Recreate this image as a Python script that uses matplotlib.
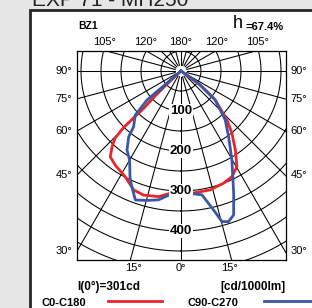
import numpy as np
import matplotlib
matplotlib.use('Agg')
import matplotlib.pyplot as plt
from matplotlib.patches import Rectangle

# photometric curves [cd/1000lm], gamma angle in degrees (negative = left half)
ang_c0 = [-50, -47.5, -45, -45.5, -44.5, -42.3, -39.5, -35, -27.8, -21.7, -16.8,
          -10.1, -5, 0, 5, 13.8, 20.8, 25.8, 30.3, 34.5, 39.3, 43.2, 49.8, 54, 60]
int_c0 = [0, 70, 132, 200, 235, 256, 278, 287, 299, 320, 324,
          319, 307, 303, 307, 306, 300, 293, 277, 240, 201, 168, 112, 60, 0]

ang_c90 = [-55, -49.5, -46, -40.4, -38.5, -34.4, -30, -25.6, -23.6, -19.5, -15,
           -9.9, -5.7, 0, 4.4, 9.6, 13.2, 15.2, 17.5, 20.1, 23.3, 29.8, 35.9,
           42.1, 49.8, 55, 60]
int_c90 = [0, 112, 159, 183, 210, 239, 257, 295, 310, 342, 335,
           327, 312, 305, 307, 314, 357, 390, 395, 383, 333, 256, 203,
           165, 112, 50, 0]

ring_labels = [100, 200, 300, 400]
side_labels = ['90°', '75°', '60°', '45°', '30°']
side_angles = [90, 75, 60, 45, 30]
top_labels = ['105°', '120°', '180°', '120°', '105°']
top_angles = [-105, -120, 180, 120, 105]
bot_labels = ['15°', '0°', '15°']
bot_angles = [-15, 0, 15]

title = 'EXP 71 - MH250'
zone = 'BZ1'
eff = '=67.4%'
i0 = 'I(0°)=301cd'
unit = '[cd/1000lm]'
series = ['C0-C180', 'C90-C270']
colors = ['#e8252b', '#3a56a6']

FN = ['Liberation Sans', 'DejaVu Sans']
W, H = 312, 308

fig = plt.figure(figsize=(W / 100, H / 100), dpi=100)
fig.patch.set_facecolor('#e6e6e6')

# background / frame in pixel units
bg = fig.add_axes([0, 0, 1, 1])
bg.set_xlim(0, W)
bg.set_ylim(H, 0)
bg.axis('off')
bg.add_patch(Rectangle((30, 10), 400, 400, fc='white', ec='#262626', lw=2))
bg.text(32, 6, title, fontsize=15, family=FN, va='baseline', ha='left', color='#222')
bg.text(78, 26, zone, fontsize=7.5, weight='bold', family=FN, va='center')
bg.text(238, 23, 'h', fontsize=13, family=FN, va='center', ha='center')
bg.text(245, 27, eff, fontsize=8, weight='bold', family=FN, va='center')
bg.text(77, 287, i0, fontsize=8.5, weight='bold', family=FN, va='center')
bg.text(220, 287, unit, fontsize=8.5, weight='bold', family=FN, va='center')
bg.text(42, 303, series[0], fontsize=8, weight='bold', family=FN, va='center')
bg.text(188, 303, series[1], fontsize=8, weight='bold', family=FN, va='center')
bg.plot([108, 162], [301, 301], color=colors[0], lw=2)
bg.plot([264, 312], [301, 301], color=colors[1], lw=2)

# polar diagram drawn in cd units, 0.4 px per cd, centre at (181, 71)
sc = 0.4
cx, cy = 181, 71
x0, x1, y0, y1 = 77, 285.5, 50.5, 259.5
ax = fig.add_axes([x0 / W, 1 - y1 / H, (x1 - x0) / W, (y1 - y0) / H])
ax.set_xlim((x0 - cx) / sc, (x1 - cx) / sc)
ax.set_ylim((y1 - cy) / sc, (y0 - cy) / sc)
ax.set_xticks([])
ax.set_yticks([])
for s in ax.spines.values():
    s.set_linewidth(0.9)
ax.patch.set_alpha(0)

t = np.linspace(0, 2 * np.pi, 400)
for r in range(50, 750, 50):
    ax.plot(r * np.sin(t), r * np.cos(t), color='k', lw=0.75, zorder=1)
for a in range(0, 360, 15):
    rad = np.radians(a)
    ax.plot([15 * np.sin(rad), 800 * np.sin(rad)], [15 * np.cos(rad), 800 * np.cos(rad)],
            color='k', lw=0.75, zorder=1)

for ang, val, c in [(ang_c0, int_c0, colors[0]), (ang_c90, int_c90, colors[1])]:
    a = np.radians(ang)
    v = np.array(val)
    ax.plot(v * np.sin(a), v * np.cos(a), color=c, lw=2, zorder=3,
            solid_joinstyle='round')

for v in ring_labels:
    ax.text(0, v, str(v), fontsize=9.5, weight='bold', family=FN, ha='center', va='center',
            zorder=4, bbox=dict(fc='white', ec='none', pad=0.4))

# angle labels round the box
for lab, a in zip(side_labels, side_angles):
    y = cy + (cx - x0) / np.tan(np.radians(a)) if a != 90 else cy
    y = min(y, 255)
    bg.text(x0 - 5, y, lab, fontsize=8, family=FN, ha='right', va='center')
    bg.text(x1 + 5, y, lab, fontsize=8, family=FN, ha='left', va='center')
for lab, a in zip(top_labels, top_angles):
    x = cx + (cy - y0) * np.tan(np.radians(180 - abs(a))) * np.sign(a) if abs(a) != 180 else cx
    bg.text(x, 42, lab, fontsize=8, family=FN, ha='center', va='center')
for lab, a in zip(bot_labels, bot_angles):
    x = cx + (y1 - cy) * np.tan(np.radians(abs(a))) * np.sign(a) * 0.95
    bg.text(x, 268, lab, fontsize=8, family=FN, ha='center', va='center')

fig.savefig('out.png', dpi=100)
